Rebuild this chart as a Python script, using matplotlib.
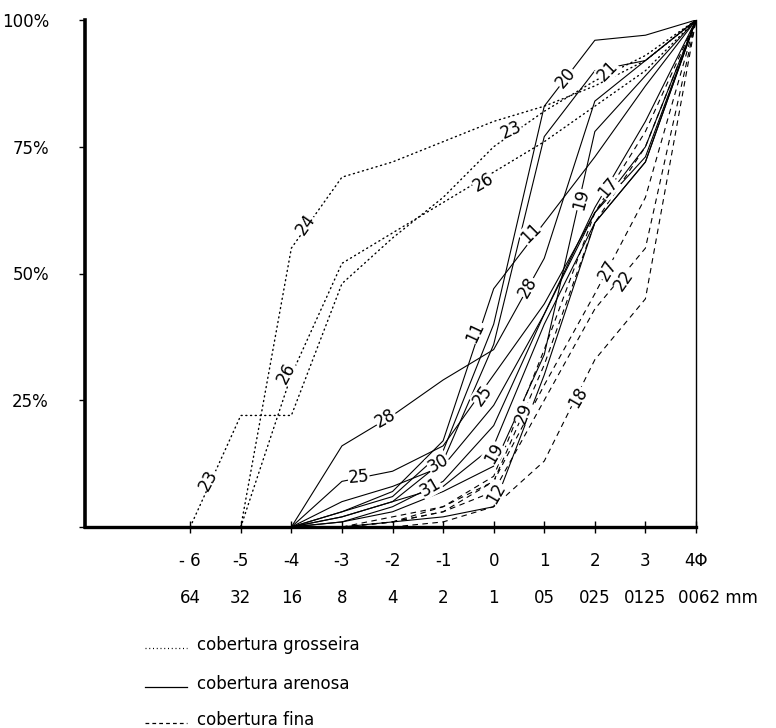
import matplotlib
matplotlib.use("Agg")
import matplotlib.pyplot as plt
from matplotlib.lines import Line2D

plt.rcParams['font.family'] = ['DejaVu Sans']

# ---------------- data (phi classes, cumulative %) ----------------
phi_ticks = [-6, -5, -4, -3, -2, -1, 0, 1, 2, 3, 4]
phi_labels = ["- 6", "-5", "-4", "-3", "-2", "-1", "0", "1", "2", "3", "4\u03a6"]
mm_labels = ["64", "32", "16", "8", "4", "2", "1", "05", "025", "0125", "0062 mm"]
pct_ticks = [0, 25, 50, 75, 100]
pct_labels = ["", "25%", "50%", "75%", "100%"]

# cobertura grosseira (dotted)
phi_23 = [-6, -5, -4, -3, -2, -1, 0, 1, 2, 3, 4]
pct_23 = [0, 22, 22, 48, 57, 65, 75, 82, 88, 93, 100]
phi_24 = [-5, -4, -3, -2, -1, 0, 1, 2, 3, 4]
pct_24 = [0, 55, 69, 72, 76, 80, 83, 87, 92, 100]
phi_26 = [-5, -4, -3, -2, -1, 0, 1, 2, 3, 4]
pct_26 = [0, 30, 52, 58, 64, 70, 76, 83, 90, 100]

# cobertura arenosa (solid)
phi_s = [-4, -3, -2, -1, 0, 1, 2, 3, 4]
pct_20 = [0, 3, 6, 15, 40, 83, 96, 97, 100]
pct_21 = [0, 2, 5, 13, 36, 77, 90, 92, 100]
pct_11 = [0, 3, 7, 17, 47, 60, 73, 87, 100]
pct_28 = [0, 16, 22, 29, 35, 53, 84, 92, 100]
pct_25 = [0, 9, 11, 16, 30, 44, 62, 75, 100]
pct_30 = [0, 5, 8, 12, 24, 42, 62, 73, 100]
pct_31 = [0, 2, 5, 8, 16, 40, 60, 72, 100]
pct_19 = [0, 1, 3, 7, 12, 34, 78, 89, 100]
pct_17 = [0, 1, 4, 9, 20, 42, 63, 80, 100]
phi_12 = [-3, -2, -1, 0, 1, 2, 3, 4]
pct_12 = [0, 1, 2, 4, 30, 60, 72, 100]

# cobertura fina (dashed)
phi_f = [-3, -2, -1, 0, 1, 2, 3, 4]
pct_29 = [0, 2, 4, 9, 32, 60, 75, 100]
pct_22 = [0, 1, 3, 7, 25, 43, 55, 100]
pct_27 = [0, 1, 3, 9, 28, 46, 65, 100]
pct_fx = [0, 1, 4, 10, 35, 62, 78, 100]
phi_18 = [-2, -1, 0, 1, 2, 3, 4]
pct_18 = [0, 1, 4, 13, 33, 45, 100]

dotted = [(phi_23, pct_23), (phi_24, pct_24), (phi_26, pct_26)]
solid = [(phi_s, pct_20), (phi_s, pct_21), (phi_s, pct_11), (phi_s, pct_28),
         (phi_s, pct_25), (phi_s, pct_30), (phi_s, pct_31), (phi_s, pct_19),
         (phi_s, pct_17), (phi_12, pct_12)]
dashed = [(phi_f, pct_29), (phi_f, pct_22), (phi_f, pct_27), (phi_f, pct_fx),
          (phi_18, pct_18)]

# curve labels: text, phi, pct, rotation
curve_labels = [
    ("24", -3.72, 59.6, 55), ("26", -4.1, 30.4, 62), ("23", -5.64, 9.3, 62),
    ("23", 0.34, 78.3, 25), ("26", -0.2, 67.9, 30),
    ("20", 1.43, 88.6, 50), ("21", 2.26, 90.0, 45),
    ("11", 0.73, 58.0, 45), ("11", -0.36, 38.5, 65),
    ("28", 0.67, 47.3, 60), ("28", -2.14, 21.5, 30),
    ("19", 1.72, 64.5, 75), ("19", 0.0, 14.6, 60), ("17", 2.26, 67.0, 50),
    ("25", -2.67, 9.9, 5), ("25", -0.22, 26.0, 55),
    ("30", -1.1, 12.6, 30), ("31", -1.25, 7.9, 30),
    ("29", 0.6, 22.5, 70), ("12", 0.05, 6.7, 60), ("18", 1.66, 25.6, 60),
    ("27", 2.26, 50.7, 60), ("22", 2.57, 48.7, 55),
]

# ---------------- figure ----------------
W, H = 776, 728
fig = plt.figure(figsize=(W / 100, H / 100), dpi=100)
ax = fig.add_axes([85 / W, 1 - 527 / H, (696 - 85) / W, (527 - 20) / H])
ax.set_xlim(-8.08, 4)
ax.set_ylim(0, 100)

lw = 0.8
for x, y in dotted:
    ax.plot(x, y, color='black', lw=1.0, linestyle=(0, (0.8, 2.6)),
            dash_capstyle='round')
for x, y in solid:
    ax.plot(x, y, color='black', lw=lw, linestyle='-')
for x, y in dashed:
    ax.plot(x, y, color='black', lw=lw, linestyle=(0, (5, 4)))

for t, px, py, rot in curve_labels:
    ax.text(px, py, t, fontsize=12, rotation=rot, ha='center', va='center',
            rotation_mode='anchor',
            bbox=dict(facecolor='white', edgecolor='none', pad=0.3))

# spines
ax.spines['top'].set_visible(False)
ax.spines['left'].set_linewidth(2.6)
ax.spines['bottom'].set_linewidth(2.4)
ax.spines['right'].set_linewidth(1.0)

ax.set_yticks(pct_ticks)
ax.set_yticklabels(pct_labels, fontsize=12)
ax.tick_params(axis='y', direction='out', length=4, width=1, pad=22)

ax.set_xticks(phi_ticks)
ax.set_xticklabels(phi_labels, fontsize=12)
ax.tick_params(axis='x', direction='inout', length=8, width=1, pad=14)

# mm row
trans = ax.get_xaxis_transform()
for p, lab in zip(phi_ticks, mm_labels):
    if lab.endswith("mm"):
        ax.text(p, -0.14, lab, transform=trans, ha='left', fontsize=12,
                va='center', clip_on=False).set_x(p - 0.35)
    else:
        ax.text(p, -0.14, lab, transform=trans, ha='center', fontsize=12,
                va='center', clip_on=False)

# legend drawn manually
leg = [("cobertura grosseira", (0, (0.8, 2.2))),
       ("cobertura arenosa", '-'),
       ("cobertura fina", (0, (3, 2.5)))]
ys = [645, 684, 720]
for (txt, ls), yp in zip(leg, ys):
    yf = 1 - yp / H
    fig.add_artist(Line2D([145 / W, 187 / W], [yf - 0.004, yf - 0.004],
                          color='black', lw=0.9, linestyle=ls))
    fig.text(197 / W, yf, txt, fontsize=12, ha='left', va='center')

fig.savefig("out.png", dpi=100)
